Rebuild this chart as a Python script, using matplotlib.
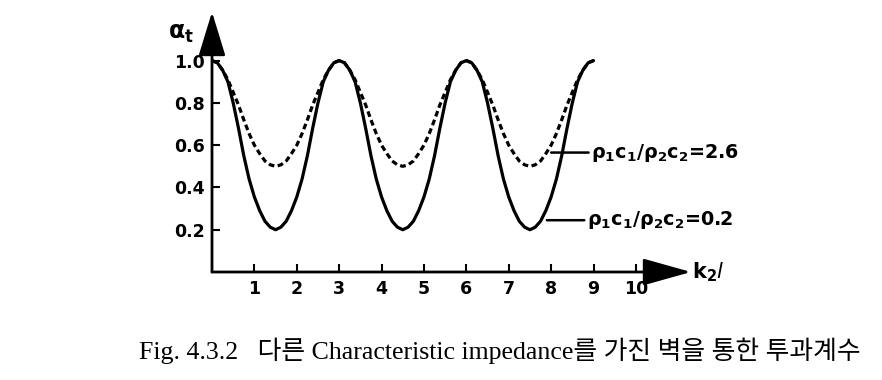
import matplotlib
matplotlib.use("Agg")
import matplotlib.pyplot as plt

plt.rcParams["mathtext.default"] = "bf"

# k2*l sample positions (step 0.125)
k2l = [i * 0.125 for i in range(73)]

# rho1c1/rho2c2 = 0.2 (solid)
alpha_02 = [
    1.00, 0.99, 0.955, 0.90, 0.80, 0.68, 0.55, 0.44, 0.355, 0.29, 0.24, 0.212,
    0.20, 0.212, 0.24, 0.29, 0.355, 0.44, 0.55, 0.68, 0.80, 0.90, 0.955, 0.99,
    1.00, 0.99, 0.955, 0.90, 0.80, 0.68, 0.55, 0.44, 0.355, 0.29, 0.24, 0.212,
    0.20, 0.212, 0.24, 0.29, 0.355, 0.44, 0.55, 0.68, 0.80, 0.90, 0.955, 0.99,
    1.00, 0.99, 0.955, 0.90, 0.80, 0.68, 0.55, 0.44, 0.355, 0.29, 0.24, 0.212,
    0.20, 0.212, 0.24, 0.29, 0.355, 0.44, 0.55, 0.68, 0.80, 0.90, 0.955, 0.99,
    1.00,
]
# rho1c1/rho2c2 = 2.6 (dashed)
alpha_26 = [
    1.00, 0.99, 0.955, 0.91, 0.85, 0.79, 0.72, 0.655, 0.60, 0.56, 0.525, 0.507,
    0.50, 0.507, 0.525, 0.56, 0.60, 0.655, 0.72, 0.79, 0.85, 0.91, 0.955, 0.99,
    1.00, 0.99, 0.955, 0.91, 0.85, 0.79, 0.72, 0.655, 0.60, 0.56, 0.525, 0.507,
    0.50, 0.507, 0.525, 0.56, 0.60, 0.655, 0.72, 0.79, 0.85, 0.91, 0.955, 0.99,
    1.00, 0.99, 0.955, 0.91, 0.85, 0.79, 0.72, 0.655, 0.60, 0.56, 0.525, 0.507,
    0.50, 0.507, 0.525, 0.56, 0.60, 0.655, 0.72, 0.79, 0.85, 0.91, 0.955, 0.99,
    1.00,
]

x_ticks = [1, 2, 3, 4, 5, 6, 7, 8, 9, 10]
y_ticks = [0.2, 0.4, 0.6, 0.8, 1.0]
y_ticklabels = ["0.2", "0.4", "0.6", "0.8", "1.0"]
label_26 = "ρ$_1$c$_1$/ρ$_2$c$_2$=2.6"
label_02 = "ρ$_1$c$_1$/ρ$_2$c$_2$=0.2"
caption = "Fig. 4.3.2   다른 Characteristic impedance를 가진 벽을 통한 투과계수"

fig = plt.figure(figsize=(8.82, 3.80), dpi=100)
ax = fig.add_axes([212 / 882, 108 / 380, 479 / 882, 260 / 380])
ax.set_xlim(0, 11.3)
ax.set_ylim(0, 1.23)

ax.plot(k2l, alpha_02, color="black", lw=2.3, solid_capstyle="round")
ax.plot(k2l, alpha_26, color="black", lw=2.3, dashes=(1.8, 1.1))

for s in ax.spines.values():
    s.set_visible(False)

ax.annotate("", xy=(11.3, 0), xytext=(0, 0), annotation_clip=False,
            arrowprops=dict(arrowstyle="-|>,head_length=1.5,head_width=0.42",
                            lw=2.0, color="black", mutation_scale=20,
                            shrinkA=0, shrinkB=0))
ax.annotate("", xy=(0, 1.23), xytext=(0, 0), annotation_clip=False,
            arrowprops=dict(arrowstyle="-|>,head_length=1.37,head_width=0.42",
                            lw=2.0, color="black", mutation_scale=20,
                            shrinkA=0, shrinkB=0))

ax.set_xticks(x_ticks)
ax.set_xticklabels([str(t) for t in x_ticks])
ax.set_yticks(y_ticks)
ax.set_yticklabels(y_ticklabels)
ax.tick_params(direction="in", length=6, width=1.5, labelsize=12.5, pad=5)
ax.tick_params(axis="x", pad=6)
for lab in ax.get_xticklabels() + ax.get_yticklabels():
    lab.set_fontweight("bold")

ax.text(-0.72, 1.13, r"$\alpha_t$", fontsize=17, ha="center", va="center")
ax.text(11.33, 0.0, r"k$_2$$\mathit{l}$", fontsize=15, fontweight="bold",
        ha="left", va="center")

# legend-like labels with leader lines
ax.annotate(label_26, xy=(8.0, 0.565), xytext=(8.95, 0.565),
            fontsize=13.8, fontweight="bold", va="center", ha="left",
            arrowprops=dict(arrowstyle="-", lw=1.8, color="black",
                            shrinkA=0, shrinkB=0))
ax.annotate(label_02, xy=(7.9, 0.245), xytext=(8.85, 0.245),
            fontsize=13.8, fontweight="bold", va="center", ha="left",
            arrowprops=dict(arrowstyle="-", lw=1.8, color="black",
                            shrinkA=0, shrinkB=0))

fig.text(500 / 882, 1 - 351 / 380, caption, fontsize=18.6,
         family=["Liberation Serif", "Noto Sans CJK KR"], ha="center", va="center")

fig.savefig("out.png", dpi=100)
